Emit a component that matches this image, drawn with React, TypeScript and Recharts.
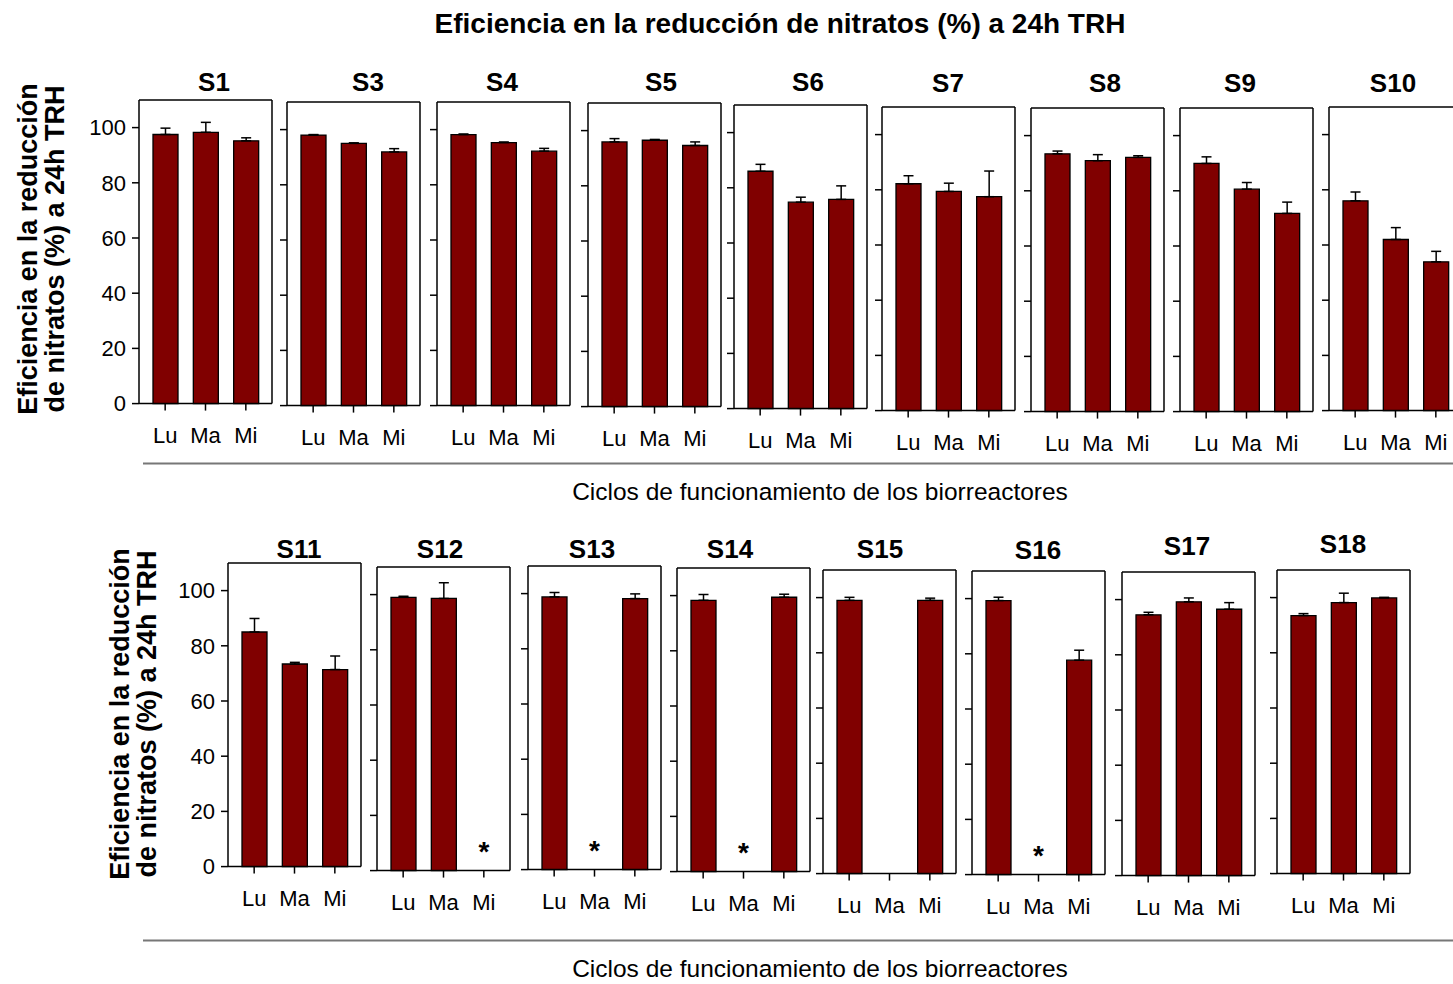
import { Bar, ComposedChart, ErrorBar, Scatter, XAxis, YAxis } from 'recharts'

const days = ['Lu', 'Ma', 'Mi']

const topNames = ['S1', 'S3', 'S4', 'S5', 'S6', 'S7', 'S8', 'S9', 'S10']
const bottomNames = ['S11', 'S12', 'S13', 'S14', 'S15', 'S16', 'S17', 'S18']

// mean efficiency (%) for Lu, Ma, Mi
const topMeans = [
  [97.5, 98.3, 95.2],
  [98.0, 95.0, 91.9],
  [98.2, 95.3, 92.2],
  [95.9, 96.5, 94.6],
  [86.0, 74.8, 75.8],
  [82.2, 79.4, 77.5],
  [93.4, 90.9, 92.1],
  [89.9, 80.6, 71.8],
  [76.0, 62.0, 53.9],
]
const topSd = [
  [2.3, 3.6, 1.1],
  [0.2, 0.2, 1.2],
  [0.2, 0.2, 1.0],
  [1.2, 0.3, 1.3],
  [2.5, 1.8, 4.9],
  [2.9, 3.0, 9.3],
  [1.0, 2.2, 0.6],
  [2.4, 2.4, 4.1],
  [3.2, 4.3, 3.8],
]

const bottomMeans = [
  [85.0, 73.4, 71.4],
  [99.0, 98.6, 0],
  [98.8, 0, 98.2],
  [98.3, 0, 99.4],
  [99.0, 0, 99.0],
  [99.3, 0, 77.7],
  [94.5, 99.2, 96.5],
  [93.5, 98.2, 99.9],
]
const bottomSd = [
  [4.9, 0.6, 4.9],
  [0.4, 5.7, 0],
  [1.6, 0, 1.7],
  [2.1, 0, 1.1],
  [1.1, 0, 0.8],
  [1.2, 0, 3.6],
  [0.9, 1.4, 2.4],
  [0.7, 3.4, 0.2],
]

// days without data, marked with *
const noData = ['S12-Mi', 'S13-Ma', 'S14-Ma', 'S16-Ma']
const STAR_LEVEL = 9

const yTicks = [0, 20, 40, 60, 80, 100]

// plot box corners, title placement
const topBoxes = [
  [139, 100.3], [287, 102.3], [437, 101.7], [587.7, 103.3], [734.3, 105],
  [882, 106.7], [1031, 108.3], [1180, 108.3], [1329, 106.7],
]
const bottomBoxes = [
  [227.7, 563.3], [376.7, 566.7], [528.3, 565.7], [676.7, 567.7],
  [823.3, 570], [971.7, 571], [1121.7, 571.7], [1276.7, 570],
]
const topTitles = [[214, 91], [368, 91], [502, 91], [661, 91], [808, 91], [948, 92], [1105, 92], [1240, 92], [1393, 92]]
const bottomTitles = [[299, 558], [440, 558], [592, 558], [730, 558], [880, 558], [1038, 559], [1187, 555], [1343, 553]]

const BOX_W = 133
const BOX_H = 303.6
const MT = 4
const MR = 4
const XH = 50
const FONT = "'Liberation Sans', Arial, sans-serif"
const AXIS = { stroke: '#000', strokeWidth: 1.5 }

const Star = ({ cx, cy }: { cx?: number; cy?: number }) => {
  if (cx == null || cy == null) return null
  return (
    <text x={cx} y={cy + 15} textAnchor="middle" fontSize={28} fontWeight="bold" fill="#000" fontFamily={FONT}>
      *
    </text>
  )
}

type PanelProps = {
  name: string
  vals: number[]
  sd: number[]
  x: number
  y: number
  first: boolean
}

const Panel = ({ name, vals, sd, x, y, first }: PanelProps) => {
  const rows = days.map((d, i) => ({
    day: d,
    value: vals[i],
    err: [0, sd[i]],
    star: noData.includes(`${name}-${d}`) ? STAR_LEVEL : null,
  }))
  const yW = first ? 64 : 12
  return (
    <div style={{ position: 'absolute', left: x - yW, top: y - MT - 1 }}>
      <ComposedChart
        width={yW + BOX_W + 1 + MR}
        height={MT + 1 + BOX_H + XH}
        data={rows}
        margin={{ top: MT, right: MR, left: 0, bottom: 0 }}
        barSize={25}
      >
        <XAxis
          xAxisId="b"
          dataKey="day"
          height={XH}
          interval={0}
          padding={{ left: 6, right: 6 }}
          tickSize={7}
          tickMargin={17}
          axisLine={AXIS}
          tickLine={AXIS}
          tick={{ fontSize: 22, fill: '#000', fontFamily: FONT }}
        />
        <XAxis
          xAxisId="t"
          dataKey="day"
          orientation="top"
          height={1}
          tick={false}
          tickLine={false}
          axisLine={AXIS}
        />
        <YAxis
          yAxisId="l"
          domain={[0, 110]}
          ticks={yTicks}
          width={yW}
          tickSize={7}
          tickMargin={6}
          axisLine={AXIS}
          tickLine={AXIS}
          tickFormatter={first ? undefined : () => ''}
          tick={{ fontSize: 22, fill: '#000', fontFamily: FONT }}
        />
        <YAxis
          yAxisId="r"
          orientation="right"
          domain={[0, 110]}
          width={1}
          tick={false}
          tickLine={false}
          axisLine={AXIS}
        />
        <Bar
          xAxisId="b"
          yAxisId="l"
          dataKey="value"
          fill="#800000"
          stroke="#000"
          strokeWidth={1.3}
          isAnimationActive={false}
        >
          <ErrorBar dataKey="err" width={5} stroke="#000" strokeWidth={1.5} />
        </Bar>
        <Scatter
          xAxisId="b"
          yAxisId="l"
          dataKey="star"
          shape={<Star />}
          isAnimationActive={false}
        />
      </ComposedChart>
    </div>
  )
}

const YLabel = ({ x, cy }: { x: number; cy: number }) => (
  <g fontSize={27} fontWeight="bold" textAnchor="middle">
    <text transform={`translate(${x},${cy}) rotate(-90)`}>Eficiencia en la reducción</text>
    <text transform={`translate(${x + 27},${cy}) rotate(-90)`}>de nitratos (%) a 24h TRH</text>
  </g>
)

const App = () => {
  return (
    <div
      style={{
        position: 'absolute',
        left: 0,
        top: 0,
        width: 1453,
        height: 984,
        overflow: 'hidden',
        background: '#fff',
        fontFamily: FONT,
      }}
    >
      {topNames.map((n, i) => (
        <Panel
          key={n}
          name={n}
          vals={topMeans[i]}
          sd={topSd[i]}
          x={topBoxes[i][0]}
          y={topBoxes[i][1]}
          first={i === 0}
        />
      ))}
      {bottomNames.map((n, i) => (
        <Panel
          key={n}
          name={n}
          vals={bottomMeans[i]}
          sd={bottomSd[i]}
          x={bottomBoxes[i][0]}
          y={bottomBoxes[i][1]}
          first={i === 0}
        />
      ))}
      <svg
        width={1453}
        height={984}
        style={{ position: 'absolute', left: 0, top: 0, pointerEvents: 'none' }}
        fontFamily={FONT}
      >
        <text x={780} y={33} textAnchor="middle" fontSize={28} fontWeight="bold">
          Eficiencia en la reducción de nitratos (%) a 24h TRH
        </text>
        {topNames.map((n, i) => (
          <text key={n} x={topTitles[i][0]} y={topTitles[i][1]} textAnchor="middle" fontSize={26} fontWeight="bold">
            {n}
          </text>
        ))}
        {bottomNames.map((n, i) => (
          <text key={n} x={bottomTitles[i][0]} y={bottomTitles[i][1]} textAnchor="middle" fontSize={26} fontWeight="bold">
            {n}
          </text>
        ))}
        <YLabel x={37} cy={249} />
        <YLabel x={129} cy={714} />
        <line x1={143} x2={1453} y1={463.5} y2={463.5} stroke="#777" strokeWidth={2} />
        <line x1={143} x2={1453} y1={940.5} y2={940.5} stroke="#777" strokeWidth={2} />
        <text x={820} y={500} textAnchor="middle" fontSize={24.5}>
          Ciclos de funcionamiento de los biorreactores
        </text>
        <text x={820} y={977} textAnchor="middle" fontSize={24.5}>
          Ciclos de funcionamiento de los biorreactores
        </text>
      </svg>
    </div>
  )
}

export default App
